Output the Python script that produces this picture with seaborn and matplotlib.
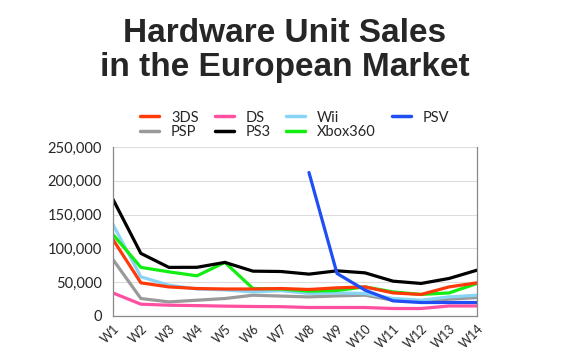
import numpy as np
import pandas as pd
import matplotlib
matplotlib.use("Agg")
import matplotlib.pyplot as plt
import seaborn as sns
from matplotlib.ticker import FuncFormatter

weeks = ["W%d" % i for i in range(1, 15)]

# weekly unit sales
sales_3ds = [113400, 49000, 43000, 40600, 39900, 39900, 40600, 39200, 41600, 43000, 34100, 31800, 43000, 49000]
sales_psp = [83700, 25800, 20800, 23300, 25800, 30700, 29400, 28200, 29700, 30700, 23300, 20800, 24800, 27200]
sales_ds = [34100, 17400, 15900, 15300, 14500, 14000, 13700, 12500, 12500, 12500, 11000, 11000, 14800, 14800]
sales_ps3 = [173000, 92600, 71900, 72000, 79300, 66300, 65800, 61900, 66800, 63800, 51500, 48100, 55500, 67800]
sales_wii = [135700, 57900, 45600, 39900, 38500, 35600, 37500, 33300, 34100, 33300, 25800, 23300, 28200, 30700]
sales_xbox = [120800, 71900, 65300, 59400, 79300, 40600, 39900, 36700, 37700, 43000, 35600, 31800, 34100, 48100]
sales_psv = [None] * 7 + [212300, 62900, 38200, 22300, 19900, 19900, 19900]

series = {
    "3DS": sales_3ds,
    "PSP": sales_psp,
    "DS": sales_ds,
    "PS3": sales_ps3,
    "Wii": sales_wii,
    "Xbox360": sales_xbox,
    "PSV": sales_psv,
}
colors = {
    "3DS": "#ff3a0a",
    "PSP": "#9a9a9a",
    "DS": "#ff4fa0",
    "PS3": "#000000",
    "Wii": "#88d4f5",
    "Xbox360": "#11ee11",
    "PSV": "#1f4ef5",
}

rows = []
for name, vals in series.items():
    for i, v in enumerate(vals):
        if v is not None:
            rows.append({"week": i, "platform": name, "units": v})
df = pd.DataFrame(rows)

sns.set_style("white")
plt.rcParams['font.family'] = ['Lato', 'DejaVu Sans']

fig = plt.figure(figsize=(5.7, 3.57), dpi=100)
ax = fig.add_axes([0.198, 0.115, 0.639, 0.473])

draw_order = ["PSP", "DS", "Wii", "Xbox360", "PS3", "3DS", "PSV"]
for name in draw_order:
    sub = df[df["platform"] == name]
    sns.lineplot(data=sub, x="week", y="units", color=colors[name], lw=2.3,
                 ax=ax, label=None, legend=False)

ax.set_xlim(0, 13)
ax.set_ylim(0, 250000)
ax.set_yticks(np.arange(0, 250001, 50000))
ax.yaxis.set_major_formatter(FuncFormatter(lambda v, p: "{:,.0f}".format(v)))
ax.set_xticks(range(14))
ax.set_xticklabels(weeks, rotation=45, ha="right", rotation_mode="anchor", fontsize=9)
ax.tick_params(axis="y", labelsize=10.5, length=0, pad=8)
ax.tick_params(axis="x", length=0, pad=5)
ax.grid(axis="y", color="#dddddd", lw=0.8)
ax.set_xlabel("")
ax.set_ylabel("")
for s in ["left", "bottom", "right"]:
    ax.spines[s].set_color("#888888")
    ax.spines[s].set_linewidth(0.9)
ax.spines["top"].set_visible(False)

legend_order = ["3DS", "PSP", "DS", "PS3", "Wii", "Xbox360", "PSV"]
handles = [plt.Line2D([], [], color=colors[n], lw=2.5) for n in legend_order]
fig.legend(handles, legend_order, ncol=4, loc="center", bbox_to_anchor=(0.517, 0.65),
           frameon=False, fontsize=10.5, handlelength=1.3, columnspacing=1.1,
           labelspacing=0.05, handletextpad=0.8)

fig.text(0.5, 0.858, "Hardware Unit Sales\nin the European Market", ha="center", va="center",
         fontsize=24, fontweight="bold", family=["Liberation Sans", "DejaVu Sans"],
         linespacing=1.1)

fig.savefig("out.png", dpi=100)
